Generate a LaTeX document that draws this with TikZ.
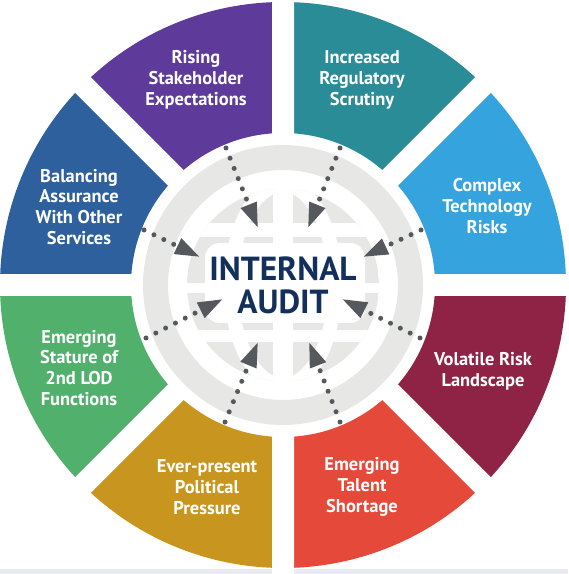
\documentclass[tikz,border=0pt]{standalone}
\usepackage{fontspec}
\setmainfont{PT Sans}
\usetikzlibrary{arrows.meta}
\definecolor{riseviolet}{RGB}{94,58,155}
\definecolor{regteal}{RGB}{42,140,150}
\definecolor{techblue}{RGB}{53,163,222}
\definecolor{riskwine}{RGB}{142,35,69}
\definecolor{talentred}{RGB}{229,73,58}
\definecolor{politgold}{RGB}{200,150,30}
\definecolor{lodgreen}{RGB}{82,176,109}
\definecolor{assureblue}{RGB}{45,96,156}
\definecolor{ianavy}{RGB}{19,48,92}
\definecolor{feedgray}{RGB}{85,88,93}
\definecolor{globegray}{RGB}{231,231,229}
\definecolor{stripgray}{RGB}{232,236,240}
\tikzset{
  seglabel/.style={text=white, align=center, font=\bfseries\fontsize{10.5}{11.9}\selectfont},
  feed/.style={draw=feedgray, line width=0.1cm, line cap=round, dash pattern=on 0pt off 0.22cm,
    -{Triangle[length=0.5cm,width=0.32cm]}},
}
\begin{document}
\begin{tikzpicture}[x=0.02cm, y=0.02cm]
    \useasboundingbox (-283,-289) rectangle (285,285);
    \fill[stripgray] (-283,-289) rectangle (285,-284);
    % ring of segments
    \fill[riseviolet] (90:152) arc (90:135:152) -- (135:283) arc (135:90:283) -- cycle;
    \fill[regteal] (45:152) arc (45:90:152) -- (90:283) arc (90:45:283) -- cycle;
    \fill[techblue] (0:152) arc (0:45:152) -- (45:283) arc (45:0:283) -- cycle;
    \fill[riskwine] (-45:152) arc (-45:0:152) -- (0:283) arc (0:-45:283) -- cycle;
    \fill[talentred] (-90:152) arc (-90:-45:152) -- (-45:283) arc (-45:-90:283) -- cycle;
    \fill[politgold] (-135:152) arc (-135:-90:152) -- (-90:283) arc (-90:-135:283) -- cycle;
    \fill[lodgreen] (180:152) arc (180:225:152) -- (225:283) arc (225:180:283) -- cycle;
    \fill[assureblue] (135:152) arc (135:180:152) -- (180:283) arc (180:135:283) -- cycle;
    \draw[white, line width=0.44cm] (145,0) -- (300,0) (-145,0) -- (-300,0) (0,145) -- (0,300) (0,-145) -- (0,-300)
        (45:145) -- (45:300) (135:145) -- (135:300) (225:145) -- (225:300) (315:145) -- (315:300);
    % globe
    \fill[globegray, even odd rule] (0,0) circle (140) circle (115);
    \begin{scope}
        \clip (0,0) circle (96);
        \fill[globegray] (-96,-96) rectangle (96,96);
        \draw[white, line width=0.4cm] (0,-96) -- (0,96);
        \draw[white, line width=0.28cm] (0,0) ellipse (52 and 100);
        \draw[white, line width=0.28cm] (-96,55) -- (96,55);
        \draw[white, line width=0.2cm] (-96,-3) -- (96,-3);
        \draw[white, line width=0.26cm] (-96,-51) -- (96,-51);
    \end{scope}
    \fill[white, rounded corners=0.3cm] (-78,-38) rectangle (82,42);
    % labels
    \node[seglabel] (rise) at (-87,205) {Rising\\Stakeholder\\Expectations};
    \node[seglabel] (scrutiny) at (79,205) {Increased\\Regulatory\\Scrutiny};
    \node[seglabel] (tech) at (204,79) {Complex\\Technology\\Risks};
    \node[seglabel] (volatile) at (200,-86) {Volatile Risk\\Landscape};
    \node[seglabel] (talent) at (79,-202) {Emerging\\Talent\\Shortage};
    \node[seglabel] (political) at (-76,-202) {Ever-present\\Political\\Pressure};
    \node[seglabel] (stature) at (-204,-83) {Emerging\\Stature of\\2nd LOD\\Functions};
    \node[seglabel] (balance) at (-204,78) {Balancing\\Assurance\\With Other\\Services};
    \node[text=ianavy, align=center, font=\bfseries\fontsize{19}{18.7}\selectfont] (ia) at (0,0) {INTERNAL\\AUDIT};
    % dotted feeds into the centre
    \coordinate (f1) at (-57,137); \coordinate (t1) at (-25,57);
    \coordinate (f2) at (57,137);  \coordinate (t2) at (25,57);
    \coordinate (f3) at (-139,55); \coordinate (t3) at (-83,28);
    \coordinate (f4) at (138,55);  \coordinate (t4) at (80,28);
    \coordinate (f5) at (-137,-53); \coordinate (t5) at (-60,-14);
    \coordinate (f6) at (137,-53);  \coordinate (t6) at (59,-14);
    \coordinate (f7) at (-58,-137); \coordinate (t7) at (-25,-57);
    \coordinate (f8) at (57,-137);  \coordinate (t8) at (26,-57);
    \draw[feed] (f1) -- (t1);
    \draw[feed] (f2) -- (t2);
    \draw[feed] (f3) -- (t3);
    \draw[feed] (f4) -- (t4);
    \draw[feed] (f5) -- (t5);
    \draw[feed] (f6) -- (t6);
    \draw[feed] (f7) -- (t7);
    \draw[feed] (f8) -- (t8);
\end{tikzpicture}
\end{document}
